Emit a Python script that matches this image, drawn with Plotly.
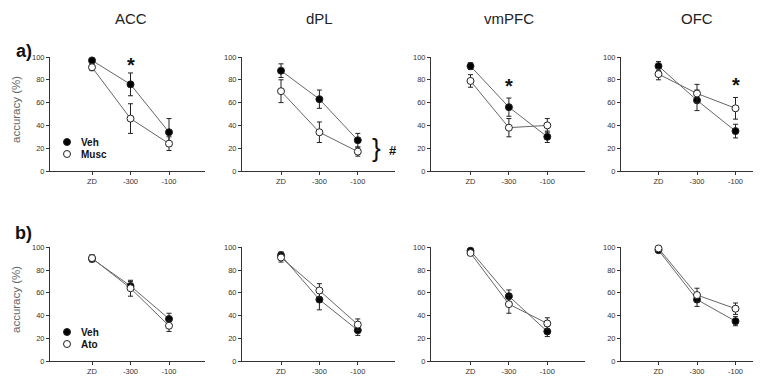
import plotly.graph_objects as go

# the page body adds an 8 px margin, so the figure is drawn 8 px in from the top-left
OFF = 8
W, H = 761 - OFF, 380 - OFF
regions = ["ACC", "dPL", "vmPFC", "OFC"]
delays = ["ZD", "-300", "-100"]
yticks = [0, 20, 40, 60, 80, 100]

# Row a) Veh vs Musc
veh_a = [[97, 76, 34], [88, 63, 27], [92, 56, 30], [92, 62, 35]]
veh_a_err = [[2, 10, 12], [6, 8, 6], [3, 8, 5], [4, 9, 6]]
musc_a = [[91, 46, 24], [70, 34, 17], [79, 38, 40], [85, 68, 55]]
musc_a_err = [[3, 13, 6], [10, 9, 4], [5.5, 8, 6], [5, 8, 9.5]]
star_a = [(1, 97), None, (1, 79), (2, 80)]

# Row b) Veh vs Ato
veh_b = [[90, 66, 37], [93, 54, 27], [97, 57, 26], [97.5, 54, 35]]
veh_b_err = [[3, 4, 5], [3, 9, 4.5], [2, 5.5, 4.5], [1, 6, 4]]
ato_b = [[90.5, 64, 31], [91, 62, 32], [95, 50, 33], [99, 58, 46]]
ato_b_err = [[3, 7, 5], [4, 6, 5], [2, 8, 5], [1, 6, 5]]


def px(x):
    return (x - OFF) / W


def py(y):
    return 1 - (y - OFF) / H


# panel geometry in page pixels: axis left, ZD position, category step, axis right
cols = [(50, 92, 38.5, 205), (242, 281, 38.4, 395), (431, 470.5, 38.4, 585), (621, 658.5, 38.5, 761)]
rows = [(171, 57), (361, 247.3)]

fig = go.Figure()
axis_font = dict(family="Liberation Sans, Arial", size=7.5, color="#333")
ax_common = dict(showline=True, linecolor="#333", linewidth=1, ticks="outside",
                 ticklen=3, tickcolor="#333", tickfont=axis_font, showgrid=False,
                 zeroline=False, fixedrange=True, automargin=False)

n = 0
for r, (ybot, ytop) in enumerate(rows):
    for c, (left, zd, step, right) in enumerate(cols):
        n += 1
        xa = "x" if n == 1 else f"x{n}"
        ya = "y" if n == 1 else f"y{n}"
        xkey = "xaxis" if n == 1 else f"xaxis{n}"
        ykey = "yaxis" if n == 1 else f"yaxis{n}"
        fig.layout[xkey] = dict(domain=[px(left), min(px(right), 1)],
                                range=[(left - zd) / step, (right - zd) / step],
                                tickvals=[0, 1, 2], ticktext=delays, anchor=ya, **ax_common)
        fig.layout[ykey] = dict(domain=[py(ybot), py(ytop)], range=[0, 100],
                                tickvals=yticks, anchor=xa, **ax_common)
        if r == 0:
            series = [(veh_a[c], veh_a_err[c], True), (musc_a[c], musc_a_err[c], False)]
        else:
            series = [(veh_b[c], veh_b_err[c], True), (ato_b[c], ato_b_err[c], False)]
        for vals, errs, filled in series:
            fig.add_trace(go.Scatter(
                x=[0, 1, 2], y=vals, xaxis=xa, yaxis=ya, mode="lines+markers",
                line=dict(color="#666", width=1),
                marker=dict(size=7, symbol="circle",
                            color="black" if filled else "white",
                            line=dict(color="#222", width=1)),
                error_y=dict(type="data", array=errs, color="#222", thickness=1, width=2.5),
                cliponaxis=False, showlegend=False))
        if r == 0 and star_a[c] is not None:
            sx, sy = star_a[c]
            fig.add_annotation(x=sx, y=sy, xref=xa, yref=ya, text="<b>*</b>", showarrow=False,
                               font=dict(family="Liberation Sans, Arial", size=20, color="#111"),
                               xanchor="center", yanchor="middle", yshift=-5)

# column titles
for c, name in enumerate(regions):
    left, zd, step, right = cols[c]
    fig.add_annotation(x=px(zd + step), y=py(19), xref="paper", yref="paper",
                       text=name, showarrow=False, xanchor="center", yanchor="middle",
                       font=dict(family="Liberation Sans, Arial", size=15, color="#222"))

# row labels
for lab, ypx in [("a)", 51), ("b)", 233)]:
    fig.add_annotation(x=px(24), y=py(ypx), xref="paper", yref="paper", text=f"<b>{lab}</b>",
                       showarrow=False, borderpad=0, xanchor="center", yanchor="middle",
                       font=dict(family="Liberation Sans, Arial", size=18, color="#111"))

# y axis titles
for ymid in [110, 300]:
    fig.add_annotation(x=px(16), y=py(ymid), xref="paper", yref="paper", text="accuracy (%)",
                       textangle=-90, showarrow=False, xanchor="center", yanchor="middle",
                       font=dict(family="Liberation Sans, Arial", size=11.5, color="#666"))

# legends
for (y1, y2, lab2) in [(142, 154, "Musc"), (332, 344, "Ato")]:
    for ypx, filled, lab in [(y1, True, "Veh"), (y2, False, lab2)]:
        fig.add_shape(type="circle", xref="paper", yref="paper",
                      x0=px(67 - 3.5), x1=px(67 + 3.5),
                      y0=py(ypx + 3.5), y1=py(ypx - 3.5),
                      fillcolor="black" if filled else "white", line=dict(color="#222", width=1))
        fig.add_annotation(x=px(79), y=py(ypx), xref="paper", yref="paper", text=f"<b>{lab}</b>",
                           xanchor="left", yanchor="middle", showarrow=False,
                           font=dict(family="Liberation Sans, Arial", size=10, color="#111"))

# significance brace for dPL
fig.add_annotation(x=px(376), y=py(148), xref="paper", yref="paper", text="}",
                   showarrow=False, xanchor="center", yanchor="middle",
                   font=dict(family="Liberation Sans, Arial", size=26, color="#111"))
fig.add_annotation(x=px(393), y=py(150), xref="paper", yref="paper", text="<b>#</b>",
                   showarrow=False, xanchor="center", yanchor="middle",
                   font=dict(family="Liberation Sans, Arial", size=13, color="#111"))

fig.update_layout(width=W, height=H, margin=dict(l=0, r=0, t=0, b=0, autoexpand=False),
                  paper_bgcolor="white", plot_bgcolor="white", showlegend=False)
fig.write_html("out.html")
